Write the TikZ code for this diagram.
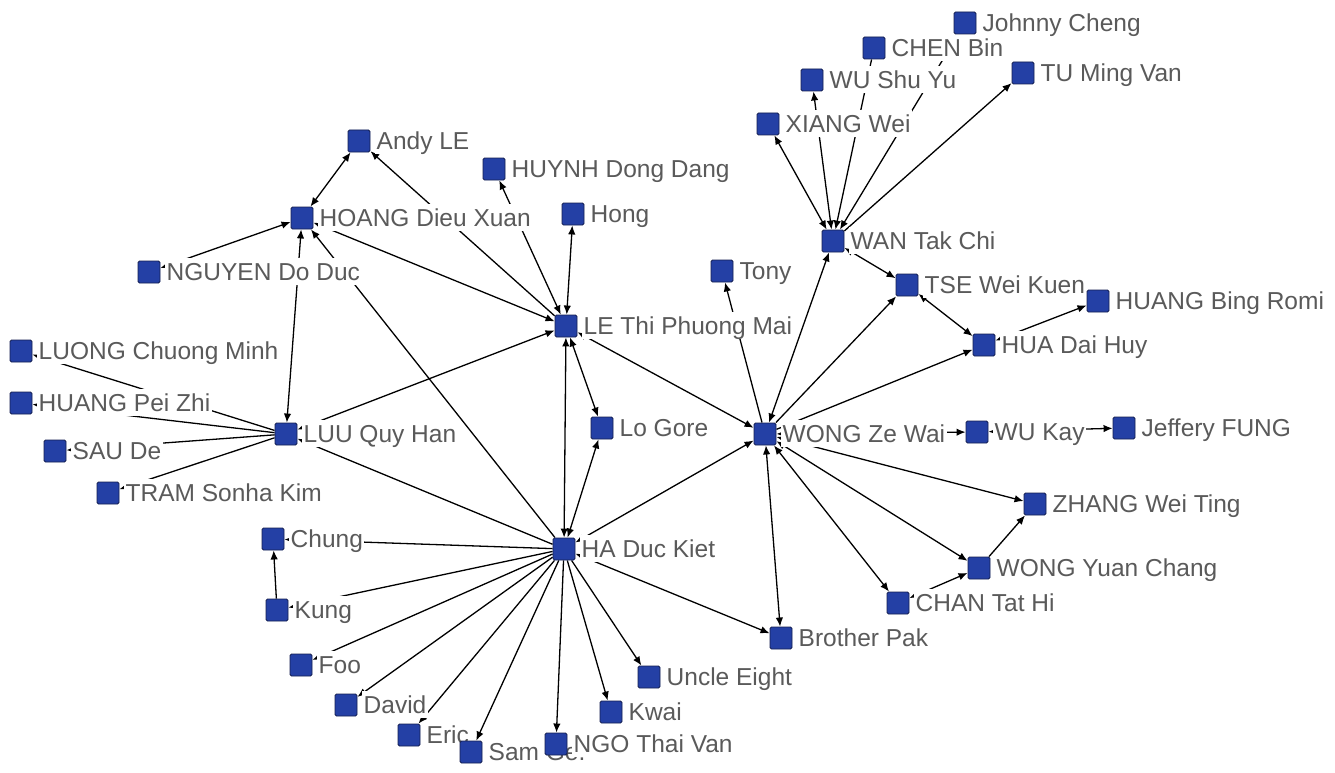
\documentclass[tikz,border=0pt]{standalone}
\usepackage{fontspec}
\setmainfont{Liberation Sans}
\usetikzlibrary{arrows.meta}
\definecolor{nodeblue}{RGB}{36,64,165}
\definecolor{nodeedge}{RGB}{20,30,80}
\definecolor{labgray}{RGB}{90,90,90}
\pgfdeclarelayer{bglayer}
\pgfdeclarelayer{edgelayer}
\pgfdeclarelayer{labellayer}
\pgfsetlayers{bglayer,edgelayer,labellayer,main}
\tikzset{
  sq/.style={draw=nodeedge, fill=nodeblue, line width=0.9pt, rounded corners=1.5pt, minimum size=22pt, inner sep=0pt},
  lab/.style={fill=white, text=labgray, anchor=base west, inner xsep=1.5pt, inner ysep=2.5pt,
     text height=20pt, text depth=2pt, font=\fontsize{24.5}{28}\selectfont},
  edg/.style={line width=1.3pt, black},
  arr/.style={edg, -{Latex[length=9pt,width=7.5pt]}},
  bi/.style={edg, {Latex[length=9pt,width=7.5pt]}-{Latex[length=9pt,width=7.5pt]}}
}
\newcommand\Sq[3]{\node[sq] (#1) at (#2,#3) {};}
\newcommand\Lb[2]{\node[lab] (#1-l) at ([xshift=16pt,yshift=-8.8pt]#1.center) {#2};}
\begin{document}
\begin{tikzpicture}[x=1pt,y=-1pt]
\useasboundingbox (0,0) rectangle (1335,773);
\begin{pgfonlayer}{bglayer}
\fill[white] (0,0) rectangle (1335,773);
\end{pgfonlayer}
% squares
\Sq{Andy}{359}{141}
\Sq{HUYNH}{494}{169}
\Sq{HOANG}{302}{218}
\Sq{Hong}{573}{214}
\Sq{NGUYEN}{149}{272}
\Sq{LE}{566}{326}
\Sq{LUONG}{21}{351}
\Sq{HPZ}{21}{403}
\Sq{SAU}{55}{451}
\Sq{TRAM}{108}{493}
\Sq{LUU}{286}{434}
\Sq{LoGore}{602}{428}
\Sq{HA}{564}{549}
\Sq{Chung}{273}{539}
\Sq{Kung}{277}{610}
\Sq{Foo}{301}{665}
\Sq{David}{346}{705}
\Sq{Eric}{409}{735}
\Sq{Sam}{471}{752}
\Sq{NGO}{556}{744}
\Sq{Kwai}{611}{712}
\Sq{Uncle}{649}{677}
\Sq{Pak}{781}{638}
\Sq{WONG}{765}{434}
\Sq{Tony}{722}{271}
\Sq{WAN}{833}{241}
\Sq{XIANG}{768}{124}
\Sq{WUSY}{812}{80}
\Sq{CHEN}{874}{48}
\Sq{Johnny}{965}{23}
\Sq{TU}{1023}{73}
\Sq{TSE}{907}{285}
\Sq{HUA}{984}{345}
\Sq{HBR}{1098}{301}
\Sq{WUKay}{977}{432}
\Sq{Jeffery}{1124}{428}
\Sq{ZHANG}{1035}{504}
\Sq{WYC}{979}{568}
\Sq{CHAN}{898}{603}
% edges
\begin{pgfonlayer}{edgelayer}
\draw[bi] (HOANG) -- (Andy);
\draw[arr] (LE) -- (Andy);
\draw[bi] (HUYNH) -- (LE);
\draw[bi] (Hong) -- (LE);
\draw[bi] (HOANG) -- (LE);
\draw[bi] (NGUYEN) -- (HOANG);
\draw[bi] (HOANG) -- (LUU);
\draw[arr] (HA) -- (HOANG);
\draw[bi] (LUU) -- (LE);
\draw[arr] (LUU) -- (LUONG);
\draw[arr] (LUU) -- (HPZ);
\draw[arr] (LUU) -- (SAU);
\draw[arr] (LUU) -- (TRAM);
\draw[arr] (HA) -- (LUU);
\draw[bi] (LE) -- (HA);
\draw[bi] (LE) -- (LoGore);
\draw[bi] (LoGore) -- (HA);
\draw[bi] (LE) -- (WONG);
\draw[arr] (WONG) -- (Tony);
\draw[bi] (WONG) -- (WAN);
\draw[bi] (WAN) -- (XIANG);
\draw[bi] (WAN) -- (WUSY);
\draw[arr] (CHEN) -- (WAN);
\draw[arr] (Johnny) -- (WAN);
\draw[arr] (WAN) -- (TU);
\draw[bi] (WAN) -- (TSE);
\draw[arr] (WONG) -- (TSE);
\draw[bi] (TSE) -- (HUA);
\draw[arr] (WONG) -- (HUA);
\draw[bi] (HUA) -- (HBR);
\draw[bi] (WONG) -- (WUKay);
\draw[bi] (WUKay) -- (Jeffery);
\draw[bi] (WONG) -- (ZHANG);
\draw[bi] (WONG) -- (WYC);
\draw[arr] (WYC) -- (ZHANG);
\draw[bi] (CHAN) -- (WYC);
\draw[bi] (WONG) -- (CHAN);
\draw[bi] (WONG) -- (Pak);
\draw[bi] (HA) -- (Pak);
\draw[bi] (WONG) -- (HA);
\draw[arr] (HA) -- (Chung);
\draw[arr] (Kung) -- (Chung);
\draw[arr] (HA) -- (Kung);
\draw[arr] (HA) -- (Foo);
\draw[arr] (HA) -- (David);
\draw[arr] (HA) -- (Eric);
\draw[arr] (HA) -- (Sam);
\draw[arr] (HA) -- (NGO);
\draw[arr] (HA) -- (Kwai);
\draw[arr] (HA) -- (Uncle);
\end{pgfonlayer}
% labels
\begin{pgfonlayer}{labellayer}
\Lb{Andy}{Andy LE}
\Lb{HUYNH}{HUYNH Dong Dang}
\Lb{HOANG}{HOANG Dieu Xuan}
\Lb{Hong}{Hong}
\Lb{NGUYEN}{NGUYEN Do Duc}
\Lb{LE}{LE Thi Phuong Mai}
\Lb{LUONG}{LUONG Chuong Minh}
\Lb{HPZ}{HUANG Pei Zhi}
\Lb{SAU}{SAU De}
\Lb{TRAM}{TRAM Sonha Kim}
\Lb{LUU}{LUU Quy Han}
\Lb{LoGore}{Lo Gore}
\Lb{HA}{HA Duc Kiet}
\Lb{Chung}{Chung}
\Lb{Kung}{Kung}
\Lb{Foo}{Foo}
\Lb{David}{David}
\Lb{Eric}{Eric}
\Lb{Sam}{Sam Ge.}
\Lb{NGO}{NGO Thai Van}
\Lb{Kwai}{Kwai}
\Lb{Uncle}{Uncle Eight}
\Lb{Pak}{Brother Pak}
\Lb{WONG}{WONG Ze Wai}
\Lb{Tony}{Tony}
\Lb{WAN}{WAN Tak Chi}
\Lb{XIANG}{XIANG Wei}
\Lb{WUSY}{WU Shu Yu}
\Lb{CHEN}{CHEN Bin}
\Lb{Johnny}{Johnny Cheng}
\Lb{TU}{TU Ming Van}
\Lb{TSE}{TSE Wei Kuen}
\Lb{HUA}{HUA Dai Huy}
\Lb{HBR}{HUANG Bing Romi}
\Lb{WUKay}{WU Kay}
\Lb{Jeffery}{Jeffery FUNG}
\Lb{ZHANG}{ZHANG Wei Ting}
\Lb{WYC}{WONG Yuan Chang}
\Lb{CHAN}{CHAN Tat Hi}
\end{pgfonlayer}
\end{tikzpicture}
\end{document}
